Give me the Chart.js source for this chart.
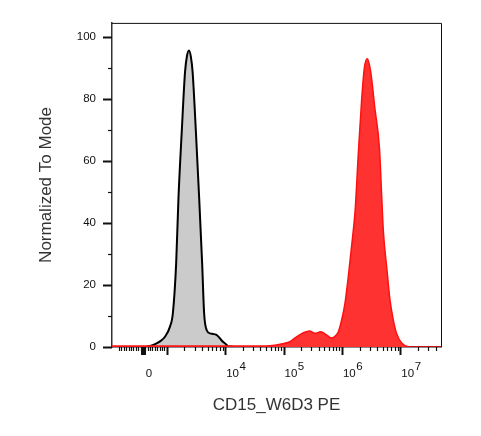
<!DOCTYPE html>
<html>
<head>
<meta charset="utf-8">
<script src="https://cdn.jsdelivr.net/npm/chart.js@4.4.1/dist/chart.umd.min.js"></script>
<style>
  body { margin: 0; background: #fff; }
  canvas { display: block; }
</style>
</head>
<body>
<canvas id="histogram" width="481" height="436"></canvas>
<script>
// histogram bins, x in display channels (0-1000 across the plot), y in % of mode
const grayChannels = [100, 116, 131, 146, 161, 176, 185, 195, 202, 212, 222, 228, 234, 240, 245, 255, 265, 274, 280, 288, 298, 307, 316, 325, 334, 344, 353, 365, 380];
const grayCounts   = [0, 0.3, 0.9, 1.8, 3.3, 6.5, 10.9, 27, 48, 69.5, 88.8, 94, 95.7, 93.5, 88.8, 69.5, 48, 27, 10.9, 5.4, 4.4, 4.2, 4.0, 3.2, 2.0, 1.1, 0.3, 0.1, 0];

const redChannels = [0, 116, 268, 420, 456, 480, 511, 541, 561, 582, 600, 617, 634, 653, 666, 675, 688, 698, 708, 718, 729, 739, 749, 759, 767, 776, 786, 799, 813, 820, 825, 835, 845, 855, 865, 881, 901, 920, 1000];
const redCounts   = [0.3, 0.3, 0.3, 0.3, 0.3, 0.4, 0.9, 1.7, 3.3, 4.6, 5.2, 4.4, 4.9, 3.8, 2.9, 3.2, 4.9, 8.7, 14, 22.5, 33.2, 44, 63, 80, 90, 93, 89, 77, 64, 48, 37, 25.7, 15.1, 8.7, 4.4, 1.2, 0.1, 0, 0];

// axis labels
const xLabelValues = [0, 1e4, 1e5, 1e6, 1e7];
const xLabelBase = ['0', '10', '10', '10', '10'];
const xLabelExp = ['', '4', '5', '6', '7'];
const xMajorValues = [0, 1e3, 1e4, 1e5, 1e6, 1e7];
const yLabelValues = [0, 20, 40, 60, 80, 100];

// biex-like transform: fluorescence value -> display channel
const toChannel = v => {
  const a = Math.abs(v);
  if (a <= 1000) return 94 + 0.0725 * v;
  const d = 72.5 + 177.5 * Math.log10(a / 1000);
  return v > 0 ? 94 + d : 94 - d;
};

const xMinorValues = [-1000];
for (let k = 1; k <= 9; k++) xMinorValues.push(k * 100, -k * 100);
for (let d = 1e3; d <= 1e7; d *= 10) {
  for (let k = 2; k <= 9; k++) xMinorValues.push(k * d);
}

const axisTicks = {
  id: 'axisTicks',
  afterDraw(chart) {
    const { ctx, chartArea: area, scales: { x, y } } = chart;
    ctx.save();
    ctx.strokeStyle = '#111';

    // frame (top + right)
    ctx.lineWidth = 1;
    ctx.beginPath();
    ctx.moveTo(area.left, area.top + 0.5);
    ctx.lineTo(area.right + 0.5, area.top + 0.5);
    ctx.lineTo(area.right + 0.5, area.bottom);
    ctx.stroke();

    // y ticks
    for (let v = 0; v <= 100; v += 10) {
      const py = Math.round(y.getPixelForValue(v)) + 0.5;
      const major = v % 20 === 0;
      ctx.lineWidth = major ? 2 : 1.2;
      ctx.beginPath();
      ctx.moveTo(area.left - (major ? 9 : 4), py);
      ctx.lineTo(area.left, py);
      ctx.stroke();
    }

    // x ticks
    const drawX = (v, len, w) => {
      const c = toChannel(v);
      if (c < x.min || c > x.max) return;
      const px = Math.round(x.getPixelForValue(c)) + 0.5;
      ctx.lineWidth = w;
      ctx.beginPath();
      ctx.moveTo(px, area.bottom);
      ctx.lineTo(px, area.bottom + len);
      ctx.stroke();
    };
    xMinorValues.forEach(v => drawX(v, 4, 1.2));
    xMajorValues.forEach(v => drawX(v, 8, 2));
    drawX(0, 8, 5);

    // x labels: "10" with a full-size raised exponent
    ctx.fillStyle = '#111';
    ctx.font = '11.5px "Liberation Sans", Arial, sans-serif';
    ctx.textBaseline = 'alphabetic';
    xLabelValues.forEach((v, i) => {
      const px = x.getPixelForValue(toChannel(v));
      if (!xLabelExp[i]) {
        ctx.textAlign = 'center';
        ctx.fillText(xLabelBase[i], px + 6, area.bottom + 30);
        return;
      }
      ctx.textAlign = 'left';
      ctx.fillText(xLabelBase[i], px + 1, area.bottom + 30);
      const w = ctx.measureText(xLabelBase[i]).width;
      ctx.fillText(xLabelExp[i], px + 1.5 + w, area.bottom + 22.5);
    });
    ctx.restore();
  }
};

Chart.defaults.font.family = '"Liberation Sans", Arial, sans-serif';

new Chart(document.getElementById('histogram'), {
  type: 'line',
  data: {
    datasets: [
      {
        label: 'Isotype',
        data: grayChannels.map((c, i) => ({ x: c, y: grayCounts[i] })),
        borderColor: '#000',
        borderWidth: 2,
        backgroundColor: '#cbcbcb',
        fill: 'origin',
        pointRadius: 0,
        cubicInterpolationMode: 'monotone',
        order: 2
      },
      {
        label: 'CD15',
        data: redChannels.map((c, i) => ({ x: c, y: redCounts[i] })),
        borderColor: '#ff1010',
        borderWidth: 1.5,
        backgroundColor: '#ff3232',
        fill: 'origin',
        pointRadius: 0,
        cubicInterpolationMode: 'monotone',
        order: 1
      }
    ]
  },
  options: {
    responsive: false,
    animation: false,
    layout: { padding: { top: 21, right: 40, left: 0, bottom: 0 } },
    plugins: { legend: { display: false }, tooltip: { enabled: false } },
    scales: {
      x: {
        type: 'linear',
        min: 0,
        max: 1000,
        afterFit: scale => { scale.height = 89; },
        afterBuildTicks: scale => {
          scale.ticks = xLabelValues.map(v => ({ value: toChannel(v) }));
        },
        grid: { display: false, drawTicks: false },
        border: { display: true, color: '#111', width: 1.5 },
        ticks: { display: false },
        title: {
          display: true,
          text: 'CD15_W6D3 PE',
          color: '#333',
          font: { size: 17 },
          padding: { top: 0, bottom: 20 }
        }
      },
      y: {
        min: 0,
        max: 104.6,
        afterFit: scale => { scale.width = 112; },
        afterBuildTicks: scale => {
          scale.ticks = yLabelValues.map(v => ({ value: v }));
        },
        grid: { display: false, drawTicks: false },
        border: { display: true, color: '#333', width: 1.5 },
        ticks: {
          autoSkip: false,
          padding: 16,
          color: '#111',
          font: { size: 11.5 }
        },
        title: {
          display: true,
          text: 'Normalized To Mode',
          color: '#333',
          font: { size: 17 },
          padding: { top: 36, bottom: 0 }
        }
      }
    }
  },
  plugins: [axisTicks]
});
</script>
</body>
</html>
